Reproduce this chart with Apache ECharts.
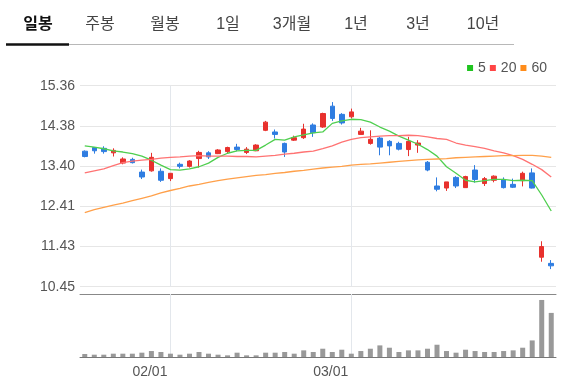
<!DOCTYPE html>
<html>
<head>
<meta charset="utf-8">
<script src="https://cdn.jsdelivr.net/npm/echarts@6/dist/echarts.min.js"></script>
<style>
html,body{margin:0;padding:0;background:#fff;}
#c{width:567px;height:392px;}
</style>
</head>
<body>
<div id="c"></div>
<script>
// ---- data ----
const dates = ['01/19','01/20','01/21','01/22','01/25','01/26','01/27','01/28','01/29',
  '02/01','02/02','02/03','02/04','02/05','02/08','02/09','02/10','02/11','02/12',
  '02/16','02/17','02/18','02/19','02/22','02/23','02/24','02/25','02/26',
  '03/01','03/02','03/03','03/04','03/05','03/08','03/09','03/10','03/11','03/12',
  '03/15','03/16','03/17','03/18','03/19','03/22','03/23','03/24','03/25','03/26',
  '03/29','03/30'];
const opens  = [13.76,13.85,13.83,13.72,13.47,13.56,13.25,13.28,13.27,13.09,13.44,13.39,13.58,13.72,13.70,13.75,13.86,13.73,13.77,14.27,14.23,13.95,14.03,14.09,14.40,14.35,14.86,14.66,14.60,14.17,13.95,14.08,14.00,13.95,13.80,13.91,13.49,12.91,12.86,13.12,12.87,13.30,12.97,13.05,13.07,12.95,13.04,13.23,11.17,11.02];
const closes = [13.63,13.77,13.75,13.78,13.57,13.48,13.13,13.61,13.05,13.22,13.39,13.52,13.73,13.62,13.79,13.85,13.80,13.81,13.91,14.47,14.17,13.74,14.09,14.30,14.21,14.68,14.56,14.45,14.72,14.25,14.05,13.86,13.89,13.81,14.00,13.96,13.30,12.83,13.01,12.91,13.14,13.07,13.09,13.15,12.87,12.88,13.22,12.86,11.43,10.96];
const lows   = [13.61,13.70,13.70,13.63,13.44,13.46,13.08,13.26,13.01,13.03,13.34,13.36,13.36,13.57,13.69,13.70,13.76,13.69,13.76,14.25,14.07,13.62,14.01,14.06,14.11,14.33,14.50,14.41,14.56,14.17,13.92,13.66,13.66,13.78,13.64,13.72,13.27,12.78,12.79,12.86,12.87,12.99,12.91,13.00,12.85,12.86,12.90,12.85,11.06,10.88];
const highs  = [13.78,13.86,13.88,13.83,13.61,13.60,13.31,13.72,13.34,13.22,13.48,13.54,13.77,13.76,13.81,13.87,13.94,13.86,13.93,14.50,14.29,13.97,14.14,14.43,14.44,14.70,14.96,14.69,14.80,14.33,14.27,14.11,14.03,13.99,14.11,14.03,13.52,13.12,13.01,13.15,13.16,13.42,13.13,13.17,13.12,13.09,13.26,13.34,11.56,11.10];
const volumes = [9,7,7,10,10,10,13,18,15,10,7,10,15,10,7,5,13,5,5,13,13,15,10,20,15,25,15,22,10,18,25,35,28,15,20,20,25,37,18,13,22,18,15,15,18,20,28,50,172,133];
const ma5  = [13.89,13.86,13.82,13.77,13.74,13.70,13.64,13.54,13.42,13.31,13.30,13.33,13.38,13.47,13.61,13.71,13.77,13.78,13.78,13.91,14.05,14.03,14.11,14.16,14.21,14.23,14.44,14.50,14.54,14.53,14.47,14.35,14.25,14.13,14.03,13.93,13.80,13.64,13.38,13.22,13.05,13.01,13.04,13.07,13.07,13.04,13.05,13.04,12.69,12.30];
const ma20 = [13.23,13.28,13.33,13.41,13.48,13.52,13.54,13.56,13.59,13.61,13.62,13.64,13.65,13.64,13.64,13.64,13.63,13.63,13.62,13.64,13.66,13.69,13.71,13.74,13.76,13.82,13.89,13.98,14.05,14.09,14.11,14.13,14.14,14.14,14.15,14.14,14.11,14.07,14.05,13.96,13.91,13.87,13.83,13.77,13.72,13.65,13.56,13.44,13.31,13.13];
const ma60 = [12.26,12.33,12.39,12.44,12.49,12.55,12.61,12.67,12.74,12.80,12.85,12.91,12.95,13.00,13.04,13.08,13.11,13.14,13.17,13.19,13.22,13.24,13.27,13.29,13.32,13.35,13.37,13.39,13.42,13.44,13.45,13.47,13.49,13.51,13.53,13.55,13.56,13.57,13.58,13.60,13.61,13.62,13.63,13.64,13.65,13.65,13.66,13.66,13.64,13.61];
const priceTicks = [10.45, 11.43, 12.41, 13.40, 14.38, 15.36];
const monthMarks = ['02/01', '03/01'];
const maNames = ['5', '20', '60'];
const tabs = ['일봉','주봉','월봉','1일','3개월','1년','3년','10년'];

// ---- chart ----
const RED = '#e8312d', BLUE = '#2f7de1';
const FONT = '"Liberation Sans", Arial, "Noto Sans CJK KR", sans-serif';
const chart = echarts.init(document.getElementById('c'));
const candleData = opens.map((o, i) => [o, closes[i], lows[i], highs[i]]);
const yMin = priceTicks[0], yMax = priceTicks[priceTicks.length - 1];
const yStep = (yMax - yMin) / (priceTicks.length - 1);
const tabX = [38, 100, 165, 228, 292, 356, 418, 483];

const graphics = tabs.map((t, i) => ({
  type: 'text', x: tabX[i], y: 25,
  style: { text: t, align: 'center', verticalAlign: 'middle',
    font: (i === 0 ? 'bold ' : '') + '16px ' + FONT, fill: i === 0 ? '#111' : '#444' }
}));
graphics.push({ type: 'rect', shape: { x: 69, y: 44, width: 445, height: 1 }, style: { fill: '#b8b8b8' } });
graphics.push({ type: 'rect', shape: { x: 6, y: 43.3, width: 63, height: 2.5 }, style: { fill: '#111' } });

const vLines = (z) => ({
  silent: true, symbol: 'none', z: z, label: { show: false },
  lineStyle: { color: '#e3e7ec', width: 1, type: 'solid' },
  emphasis: { disabled: true },
  data: monthMarks.map(m => ({ xAxis: m }))
});

chart.setOption({
  animation: false,
  backgroundColor: '#fff',
  textStyle: { fontFamily: FONT },
  graphic: graphics,
  legend: {
    data: maNames, right: 20, top: 61, icon: 'rect', itemWidth: 6, itemHeight: 6, itemGap: 4,
    padding: 0, textStyle: { fontSize: 14, color: '#555', fontFamily: FONT }
  },
  grid: [
    { left: 80, right: 11, top: 85.7, height: 201 },
    { left: 80, right: 11, top: 294, height: 63 }
  ],
  xAxis: [
    { type: 'category', gridIndex: 0, data: dates, boundaryGap: true,
      axisLine: { show: false }, axisTick: { show: false }, axisLabel: { show: false }, splitLine: { show: false } },
    { type: 'category', gridIndex: 1, data: dates, boundaryGap: true, position: 'bottom',
      axisLine: { lineStyle: { color: '#777' } }, axisTick: { show: false },
      axisLabel: { interval: (idx, val) => monthMarks.indexOf(val) >= 0, color: '#555', fontSize: 14, margin: 8,
        fontFamily: FONT, align: 'right', padding: [0, 3, 0, 0] },
      splitLine: { show: false } },
    { type: 'category', gridIndex: 1, data: dates, boundaryGap: true, position: 'top',
      axisLine: { lineStyle: { color: '#888' } }, axisTick: { show: false }, axisLabel: { show: false } }
  ],
  yAxis: [
    { type: 'value', gridIndex: 0, min: yMin, max: yMax, interval: yStep, position: 'left',
      axisLine: { show: false }, axisTick: { show: false },
      axisLabel: { formatter: v => v.toFixed(2), color: '#555', fontSize: 14, margin: 5, fontFamily: FONT },
      splitLine: { lineStyle: { color: '#e6e6e6' } } },
    { type: 'value', gridIndex: 1, min: 0, max: 190, show: false, splitLine: { show: false } }
  ],
  series: [
    { type: 'candlestick', name: 'price', xAxisIndex: 0, yAxisIndex: 0, data: candleData, barWidth: 5,
      itemStyle: { color: RED, color0: BLUE, borderColor: RED, borderColor0: BLUE, borderWidth: 1 },
      markLine: vLines(1) },
    { type: 'line', name: maNames[0], data: ma5, symbol: 'none', xAxisIndex: 0, yAxisIndex: 0,
      lineStyle: { color: '#4fcf4f', width: 1.3 }, itemStyle: { color: '#1fc41f' }, z: 3 },
    { type: 'line', name: maNames[1], data: ma20, symbol: 'none', xAxisIndex: 0, yAxisIndex: 0,
      lineStyle: { color: '#ff7373', width: 1.3 }, itemStyle: { color: '#ff4545' }, z: 3 },
    { type: 'line', name: maNames[2], data: ma60, symbol: 'none', xAxisIndex: 0, yAxisIndex: 0,
      lineStyle: { color: '#ffa04a', width: 1.3 }, itemStyle: { color: '#ff8c1a' }, z: 3 },
    { type: 'bar', name: 'volume', xAxisIndex: 1, yAxisIndex: 1, data: volumes, barWidth: 5,
      itemStyle: { color: '#999' }, markLine: vLines(1) }
  ]
});
</script>
</body>
</html>
